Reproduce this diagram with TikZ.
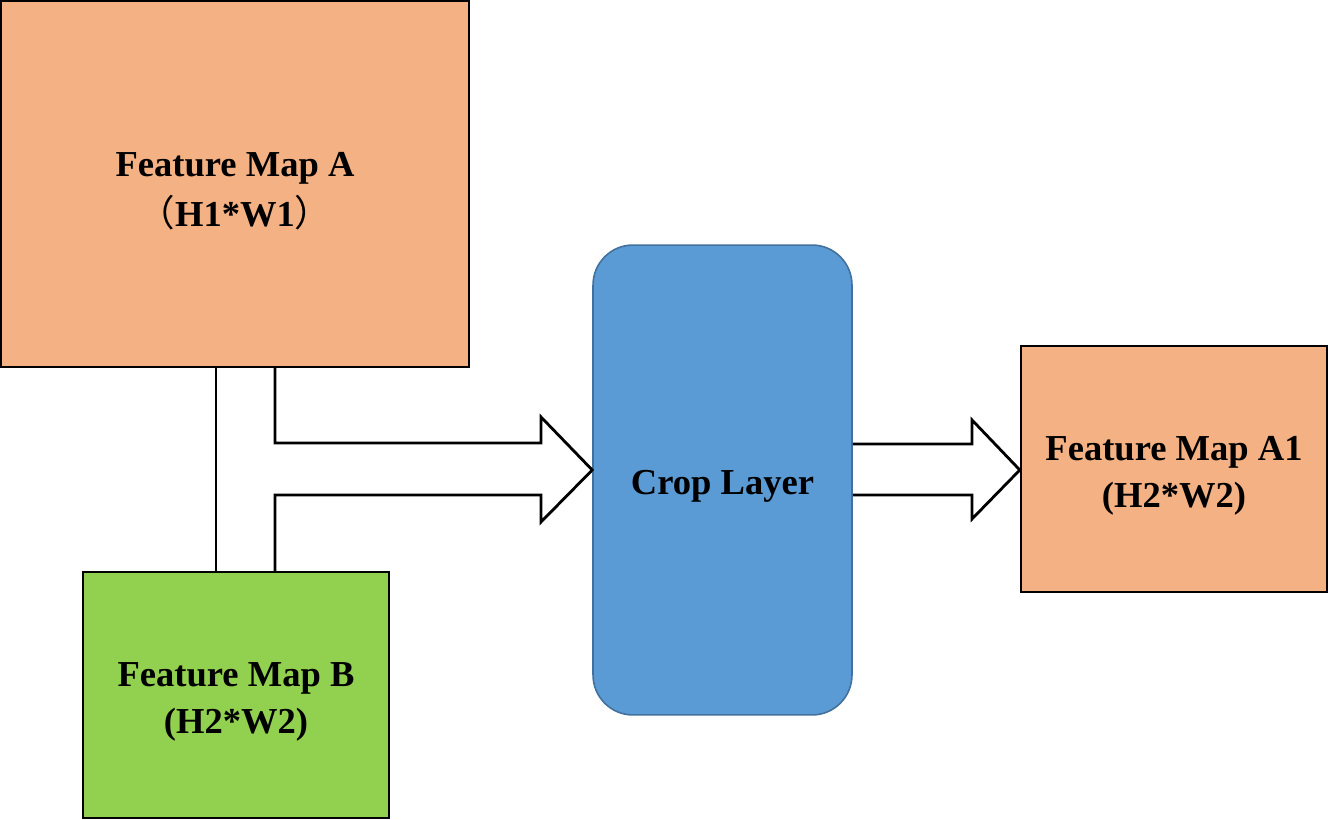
\documentclass[tikz,border=0pt]{standalone}
\usepackage{fontspec}
\setmainfont{Liberation Serif}
\newfontfamily\cjkfont{Noto Sans CJK SC}
\usetikzlibrary{calc}
\definecolor{MapOrange}{RGB}{244,177,131}
\definecolor{MapGreen}{RGB}{146,208,80}
\definecolor{CropBlue}{RGB}{91,155,213}
\definecolor{CropEdge}{RGB}{65,113,156}
\newcommand{\fw}[1]{{\cjkfont\mdseries #1}}
\newcommand{\lowr}{\rule{0pt}{21.5pt}}

\begin{document}
\begin{tikzpicture}[
  x=0.02cm,y=-0.02cm,
  map/.style={draw=black,line width=1.4pt,align=center,inner sep=0pt,
              font=\fontsize{20.8}{26.6}\selectfont\bfseries},
  crop/.style={map,draw=CropEdge,line width=0.9pt,fill=CropBlue,rounded corners=0.8cm},
  link/.style={draw=black,line width=1.6pt},
  blockarrow/.style={link,line join=miter}
]
\useasboundingbox (0,0) rectangle (1328,820);
\node[map,fill=MapOrange,minimum width=9.36cm,minimum height=7.32cm] (mapA) at (235,184)
  {\lowr Feature Map A\\[2pt]\fw{（}H1*W1\fw{）}};
\node[map,fill=MapGreen,minimum width=6.12cm,minimum height=4.92cm] (mapB) at (236,695)
  {\lowr Feature Map B\\(H2*W2)};
\node[crop,minimum width=5.18cm,minimum height=9.4cm] (cropL) at (722.5,480) {\lowr Crop Layer};
\node[map,fill=MapOrange,minimum width=6.12cm,minimum height=4.92cm] (mapA1) at (1174,469)
  {\lowr Feature Map A1\\(H2*W2)};
% links between the maps
\coordinate (lineL) at (216,0);
\coordinate (lineR) at (275,0);
\draw[link] (mapA.south -| lineL) -- (mapB.north -| lineL);
\draw[blockarrow] (mapA.south -| lineR) -- (275,443) -- (541,443) -- (541,417)
  -- (cropL.west |- 0,470) -- (541,522) -- (541,495) -- (275,495) -- (mapB.north -| lineR);
\draw[blockarrow] (cropL.east |- 0,444) -- (972,444) -- (972,420) -- (mapA1.west |- 0,470)
  -- (972,519) -- (972,495) -- (cropL.east |- 0,495);
\end{tikzpicture}
\end{document}
